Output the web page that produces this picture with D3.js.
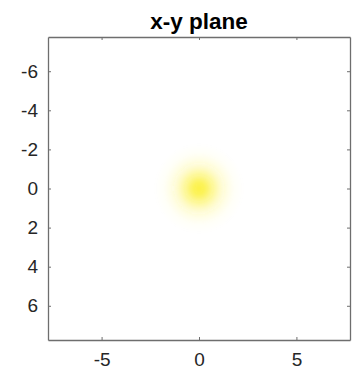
<!DOCTYPE html>
<html>
<head>
<meta charset="utf-8">
<script src="https://cdn.jsdelivr.net/npm/d3@7"></script>
<style>
  html, body { margin: 0; padding: 0; background: #fff; }
  svg { display: block; font-family: "Liberation Sans", Arial, Helvetica, sans-serif; }
</style>
</head>
<body>
<svg id="chart" width="360" height="375"></svg>
<script>
// Axis limits and tick values
const xLimits = [-7.75, 7.75];
const yLimits = [-7.75, 7.75];
const xTicks = [-5, 0, 5];
const yTicks = [-6, -4, -2, 0, 2, 4, 6];
const title = "x-y plane";

// Intensity spot: centre (data units) and radial falloff profile
const spotCenter = [0, 0];
const spotRadius = 2.3;                          // data units where intensity vanishes
const spotStopRadii = [0, 0.35, 0.7, 1.05, 1.4, 1.8, 2.3];   // data units
const spotStopIntensity = [0.85, 0.7, 0.46, 0.25, 0.11, 0.03, 0.0];
const spotColor = "#fbee1e";

const svg = d3.select("#chart");
const margin = { left: 48, right: 10, top: 37, bottom: 35 };
const W = 360, H = 375;

const x = d3.scaleLinear().domain(xLimits).range([margin.left, W - margin.right]);
const y = d3.scaleLinear().domain(yLimits).range([margin.top, H - margin.bottom]);

// Plot area clip
svg.append("clipPath").attr("id", "plotClip")
  .append("rect")
  .attr("x", x(xLimits[0])).attr("y", y(yLimits[0]))
  .attr("width", x(xLimits[1]) - x(xLimits[0]))
  .attr("height", y(yLimits[1]) - y(yLimits[0]));

// Radial gradient for the spot
const defs = svg.append("defs");
const grad = defs.append("radialGradient").attr("id", "spotGrad");
grad.selectAll("stop")
  .data(spotStopRadii.map((r, i) => ({ r, a: spotStopIntensity[i] })))
  .join("stop")
  .attr("offset", d => d.r / spotRadius)
  .attr("stop-color", spotColor)
  .attr("stop-opacity", d => d.a);

defs.append("filter").attr("id", "soft")
  .append("feGaussianBlur").attr("stdDeviation", 1.5);

const rx = x(spotCenter[0] + spotRadius) - x(spotCenter[0]);
const ry = y(spotCenter[1] + spotRadius) - y(spotCenter[1]);
svg.append("g").attr("clip-path", "url(#plotClip)")
  .append("ellipse")
  .attr("cx", x(spotCenter[0]))
  .attr("cy", y(spotCenter[1]))
  .attr("rx", rx)
  .attr("ry", ry)
  .attr("fill", "url(#spotGrad)")
  .attr("filter", "url(#soft)");

// Axes (ticks pointing inward on all four sides)
const axisColor = "#6e6e6e";
const textColor = "#262626";
const tickLen = 3;

function styleAxis(g) {
  g.select(".domain").attr("stroke", axisColor).attr("stroke-width", 1.3);
  g.selectAll(".tick line").attr("stroke", axisColor);
  g.selectAll(".tick text").attr("fill", textColor).attr("font-size", 19);
}

svg.append("g")
  .attr("transform", `translate(0,${y(yLimits[1])})`)
  .call(d3.axisBottom(x).tickValues(xTicks).tickSize(-tickLen).tickPadding(13).tickSizeOuter(0)
    .tickFormat(d => String(d)))
  .call(styleAxis);

svg.append("g")
  .attr("transform", `translate(0,${y(yLimits[0])})`)
  .call(d3.axisTop(x).tickValues(xTicks).tickSize(-tickLen).tickFormat("").tickSizeOuter(0))
  .call(styleAxis);

svg.append("g")
  .attr("transform", `translate(${x(xLimits[0])},0)`)
  .call(d3.axisLeft(y).tickValues(yTicks).tickSize(-tickLen).tickPadding(10).tickSizeOuter(0)
    .tickFormat(d => String(d)))
  .call(styleAxis);

svg.append("g")
  .attr("transform", `translate(${x(xLimits[1])},0)`)
  .call(d3.axisRight(y).tickValues(yTicks).tickSize(-tickLen).tickFormat("").tickSizeOuter(0))
  .call(styleAxis);

svg.selectAll(".domain").attr("fill", "none");

// Title
svg.append("text")
  .attr("x", (x(xLimits[0]) + x(xLimits[1])) / 2)
  .attr("y", 29)
  .attr("text-anchor", "middle")
  .attr("font-weight", "bold")
  .attr("font-size", 22.5)
  .attr("fill", "#000")
  .text(title);
</script>
</body>
</html>
